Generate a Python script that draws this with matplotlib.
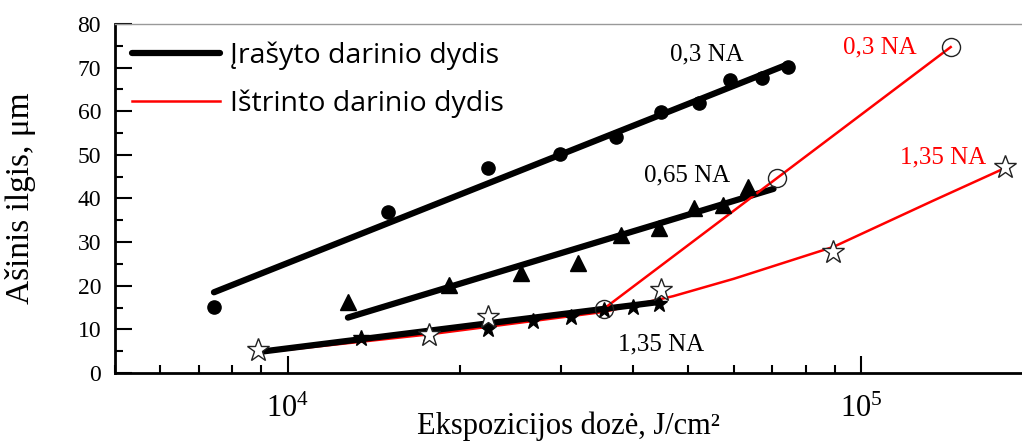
import numpy as np
import matplotlib.pyplot as plt
from matplotlib.ticker import LogLocator, NullFormatter, MultipleLocator

# 0,3 NA - recorded structure (filled circles) and its fit line
na03_x = [7440, 14950, 22340, 29820, 37330, 44710, 52250, 59160, 67300, 74700]
na03_y = [15.1, 36.9, 47.0, 50.2, 54.1, 59.8, 61.9, 67.2, 67.6, 70.1]
na03_fit_x = [7440, 74700]
na03_fit_y = [18.5, 70.8]

# 0,65 NA - recorded structure (triangles) and fit line
na065_x = [12740, 19100, 25500, 32060, 38100, 44360, 51060, 57330, 63630]
na065_y = [16.3, 20.2, 22.9, 25.2, 31.6, 33.2, 37.8, 38.5, 42.6]
na065_fit_x = [12740, 70360]
na065_fit_y = [12.7, 42.2]

# 1,35 NA - recorded structure (small filled stars) and fit line
na135_x = [13420, 17560, 22340, 26760, 31160, 35580, 39960, 44360]
na135_y = [8.0, 8.6, 10.1, 11.9, 12.8, 14.4, 15.1, 15.8]
na135_fit_x = [8880, 44600]
na135_fit_y = [4.8, 16.3]

# erased structure, 0,3 NA (open circles)
er03_x = [35580, 71400, 143300]
er03_y = [14.7, 44.7, 74.7]

# erased structure, 1,35 NA (open stars) and its curve
er135_x = [8880, 17630, 22340, 44710, 89460, 178400]
er135_y = [5.3, 8.6, 12.8, 19.0, 27.7, 47.2]
er135_line_x = [8880, 17770, 35580, 47000, 60000, 89460, 133600, 178400]
er135_line_y = [4.6, 8.9, 14.0, 17.6, 21.6, 28.9, 39.5, 47.0]

serif = 'Liberation Serif'
plt.rcParams['font.family'] = serif
plt.rcParams['mathtext.fontset'] = 'custom'
plt.rcParams['mathtext.rm'] = serif
plt.rcParams['mathtext.it'] = serif

fig = plt.figure(figsize=(10.22, 4.43), dpi=100)
ax = fig.add_axes([0.1125, 0.158, 0.8875, 0.788])

# fit lines
ax.plot(na03_fit_x, na03_fit_y, 'k-', lw=4.5, solid_capstyle='round', zorder=3,
        label='Įrašyto darinio dydis')
ax.plot(na065_fit_x, na065_fit_y, 'k-', lw=4.5, solid_capstyle='round', zorder=3)
ax.plot(er135_line_x, er135_line_y, '-', color='#ff0000', lw=1.8, zorder=2,
        label='Ištrinto darinio dydis')
ax.plot(na135_fit_x, na135_fit_y, 'k-', lw=4.5, solid_capstyle='round', zorder=3)
ax.plot(er03_x, er03_y, '-', color='#ff0000', lw=1.8, zorder=4)

# markers
ax.plot(na03_x, na03_y, 'ko', ms=9.5, zorder=5)
ax.plot(na065_x, na065_y, 'k^', ms=11, zorder=5)
ax.plot(na135_x, na135_y, 'k*', ms=12, zorder=5)
ax.plot(er03_x, er03_y, 'o', ms=13, mfc='none', mec='#222222', mew=1.0, zorder=6)
ax.plot(er135_x, er135_y, '*', ms=17, mfc='white', mec='#222222', mew=1.0, zorder=6)

# annotations
ax.text(53800, 72.9, '0,3 NA', fontsize=18, ha='center', va='center')
ax.text(49700, 45.2, '0,65 NA', fontsize=18, ha='center', va='center')
ax.text(44750, 6.5, '1,35 NA', fontsize=18, ha='center', va='center')
ax.text(107700, 74.7, '0,3 NA', fontsize=18, ha='center', va='center', color='#ff0000')
ax.text(138700, 49.5, '1,35 NA', fontsize=18, ha='center', va='center', color='#ff0000')

ax.set_xscale('log')
ax.set_xlim(5000, 1.908e5)
ax.set_ylim(0, 80)

ax.yaxis.set_major_locator(MultipleLocator(10))
ax.yaxis.set_minor_locator(MultipleLocator(5))
ax.xaxis.set_major_locator(LogLocator(base=10))
ax.xaxis.set_minor_locator(LogLocator(base=10, subs=np.arange(2, 10)))
ax.xaxis.set_minor_formatter(NullFormatter())

ax.tick_params(which='major', direction='in', length=12, width=1.5)
ax.tick_params(which='minor', direction='in', length=6, width=1.5)
ax.tick_params(axis='y', labelsize=17, pad=10)
ax.tick_params(axis='x', labelsize=22, pad=16)

for s in ['left', 'bottom']:
    ax.spines[s].set_linewidth(2)
ax.spines['top'].set_color('#999999')
ax.spines['top'].set_linewidth(1)
ax.spines['right'].set_visible(False)

ax.set_ylabel('Ašinis ilgis, μm', fontsize=24)
ax.yaxis.set_label_coords(-0.087, 0.5)
ax.set_xlabel('Ekspozicijos dozė, J/cm²', fontsize=22)
ax.xaxis.set_label_coords(0.5, -0.11)

leg = ax.legend(loc='upper left', frameon=False, prop={'family': 'Open Sans', 'size': 20.5},
                handlelength=3.1, handletextpad=0.35, labelspacing=0.7,
                borderaxespad=0.2, bbox_to_anchor=(0.0, 1.0))

fig.savefig('out.png', dpi=100)
